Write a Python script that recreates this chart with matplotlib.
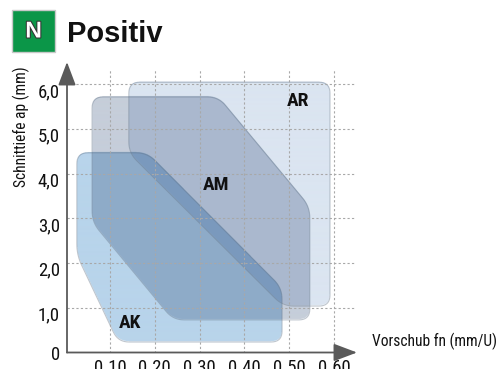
import numpy as np
import matplotlib
matplotlib.use('Agg')
import matplotlib.pyplot as plt
from matplotlib import font_manager as fm
from matplotlib.path import Path
from matplotlib.patches import PathPatch, Rectangle
import matplotlib.patheffects as pe
import matplotlib.transforms as mtransforms

# pick a narrow face if one is installed
names = {f.name for f in fm.fontManager.ttflist}
narrow = None
for cand in ['Liberation Sans Narrow', 'Roboto Condensed', 'Open Sans Condensed']:
    if cand in names:
        narrow = cand
        break
stretch = 'normal'
if narrow is None:
    p = fm.findfont(fm.FontProperties(family='DejaVu Sans', stretch='condensed'))
    if 'Condensed' in p:
        narrow, stretch = 'DejaVu Sans', 'condensed'
    else:
        narrow = 'Liberation Sans'
plt.rcParams['font.family'] = [narrow, 'DejaVu Sans']
plt.rcParams['font.stretch'] = stretch

# axis ticks
x_ticks = [0.10, 0.20, 0.30, 0.40, 0.50, 0.60]
x_tick_labels = ['0.10', '0.20', '0.30', '0.40', '0.50', '0.60']
y_ticks = [0, 1, 2, 3, 4, 5, 6]
y_tick_labels = ['0', '1,0', '2,0', '3,0', '4,0', '5,0', '6,0']

# application areas (feed fn, depth ap), corner points before rounding
ar_fn = [0.142, 0.591, 0.591, 0.486, 0.142]
ar_ap = [6.05, 6.05, 1.04, 1.04, 4.47]
am_fn = [0.060, 0.342, 0.546, 0.546, 0.241, 0.060]
am_ap = [5.72, 5.72, 3.26, 0.73, 0.73, 2.92]
ak_fn = [0.026, 0.183, 0.484, 0.484, 0.118, 0.026]
ak_ap = [4.47, 4.47, 1.44, 0.235, 0.235, 2.18]

area_names = ['AR', 'AM', 'AK']
area_colors = [(219, 229, 241), (198, 206, 218), (184, 212, 235)]
label_fn = [0.520, 0.337, 0.145]
label_ap = [5.63, 3.75, 0.66]

narrow_font = narrow != 'Liberation Sans'
tick_size = 13.5 if narrow_font else 11.5
label_size = 11.2 if narrow_font else 9.8
name_size = 14 if narrow_font else 12

W, H = 497, 369
fig = plt.figure(figsize=(W / 100, H / 100), dpi=100)
ax_l, ax_r, ax_b, ax_t = 67, 357, 352.5, 62
ax = fig.add_axes([ax_l / W, (H - ax_b) / H, (ax_r - ax_l) / W, (ax_b - ax_t) / H])
x0, x1 = 0.004, 0.6513
y0, y1 = 0.0, 6.503
sx = (ax_r - ax_l) / (x1 - x0)
sy = (ax_b - ax_t) / (y1 - y0)


def rounded(xs, ys, r=11, n=10):
    px = np.array(xs) * sx
    py = np.array(ys) * sy
    pts = []
    for i in range(len(px)):
        p = np.array([px[i], py[i]])
        a = np.array([px[i - 1], py[i - 1]])
        b = np.array([px[(i + 1) % len(px)], py[(i + 1) % len(px)]])
        u1 = (a - p) / np.hypot(*(a - p))
        u2 = (b - p) / np.hypot(*(b - p))
        p0 = p + u1 * r
        p2 = p + u2 * r
        for t in np.linspace(0, 1, n):
            pts.append((1 - t) ** 2 * p0 + 2 * (1 - t) * t * p + t ** 2 * p2)
    pts = np.array(pts)
    pts = np.vstack([pts, pts[:1]])
    return pts[:, 0] / sx, pts[:, 1] / sy


shapes = [(ar_fn, ar_ap), (am_fn, am_ap), (ak_fn, ak_ap)]
paths = []
for xs, ys in shapes:
    rx, ry = rounded(xs, ys)
    paths.append(Path(np.column_stack([rx, ry])))

# multiply-blended fill, rasterised on a fine grid
nx = int((ax_r - ax_l) * 4)
ny = int((ax_b - ax_t) * 4)
gx = np.linspace(x0, x1, nx)
gy = np.linspace(y0, y1, ny)
GX, GY = np.meshgrid(gx, gy)
pts = np.column_stack([GX.ravel(), GY.ravel()])
img = np.ones((ny, nx, 4))
alpha = np.zeros((ny, nx), bool)
for path, col in zip(paths, area_colors):
    m = path.contains_points(pts).reshape(ny, nx)
    for c in range(3):
        img[..., c][m] *= col[c] / 255
    alpha |= m
img[..., 3] = alpha.astype(float)
ax.imshow(img, extent=(x0, x1, y0, y1), origin='lower', aspect='auto',
          interpolation='antialiased', zorder=1)

for path in paths:
    ax.add_patch(PathPatch(path, fill=False, edgecolor=(0.38, 0.45, 0.53, 0.4),
                           lw=0.8, zorder=2))

# dotted grid above the areas
ax.vlines(x_ticks, 0, 6.32, colors='#a8a8a8', linestyles=(0, (2, 2)), lw=0.8, zorder=3)
ax.hlines(y_ticks[1:], x0, 0.647, colors='#a8a8a8', linestyles=(0, (2, 2)), lw=0.8, zorder=3)

for name, fx, fy in zip(area_names, label_fn, label_ap):
    ax.text(fx, fy, name, ha='center', va='center', fontsize=name_size,
            fontweight='bold', color='#111111', zorder=4)

ax.set_xlim(x0, x1)
ax.set_ylim(y0, y1)
for s in ax.spines.values():
    s.set_visible(False)
ax.set_xticks(x_ticks, x_tick_labels)
ax.set_yticks(y_ticks, y_tick_labels)
ax.tick_params(length=0, labelsize=tick_size, colors='#111111')
ax.tick_params(axis='y', pad=5)
ax.tick_params(axis='x', pad=4.5)
for lab in ax.get_yticklabels()[1:]:
    lab.set_transform(lab.get_transform() +
                      mtransforms.ScaledTranslation(0, -4 / 72, fig.dpi_scale_trans))

arrow = dict(arrowstyle='-|>,head_length=0.9,head_width=0.34', mutation_scale=16,
             color='#5a5a5a', lw=1.3, shrinkA=0, shrinkB=0)
ax.annotate('', xy=(1, 0), xytext=(0, 0), xycoords='axes fraction', arrowprops=arrow,
            annotation_clip=False, zorder=5)
ax.annotate('', xy=(0, 1), xytext=(0, 0), xycoords='axes fraction', arrowprops=arrow,
            annotation_clip=False, zorder=5)

# header
fig.add_artist(Rectangle((12 / W, 1 - 52 / H), 43 / W, 42 / H, transform=fig.transFigure,
                         facecolor='#0b9648', edgecolor='#c8c8c8', lw=1))
fig.text(33.5 / W, 1 - 31 / H, 'N', ha='center', va='center', color='white',
         fontsize=16.5, fontweight='bold', family='Liberation Sans', stretch='normal',
         path_effects=[pe.withStroke(linewidth=1.5, foreground='#333333')])
fig.text(67 / W, 1 - 42 / H, 'Positiv', ha='left', va='baseline', color='#111111',
         fontsize=21, fontweight='bold', family='Liberation Sans', stretch='normal')

fig.text(21 / W, 1 - 127 / H, 'Schnittiefe ap (mm)', rotation=90, ha='center',
         va='center', fontsize=label_size, color='#111111')
fig.text(372 / W, 1 - 341 / H, 'Vorschub fn (mm/U)', ha='left', va='center',
         fontsize=label_size, color='#111111')

fig.savefig('out.png', dpi=100)
